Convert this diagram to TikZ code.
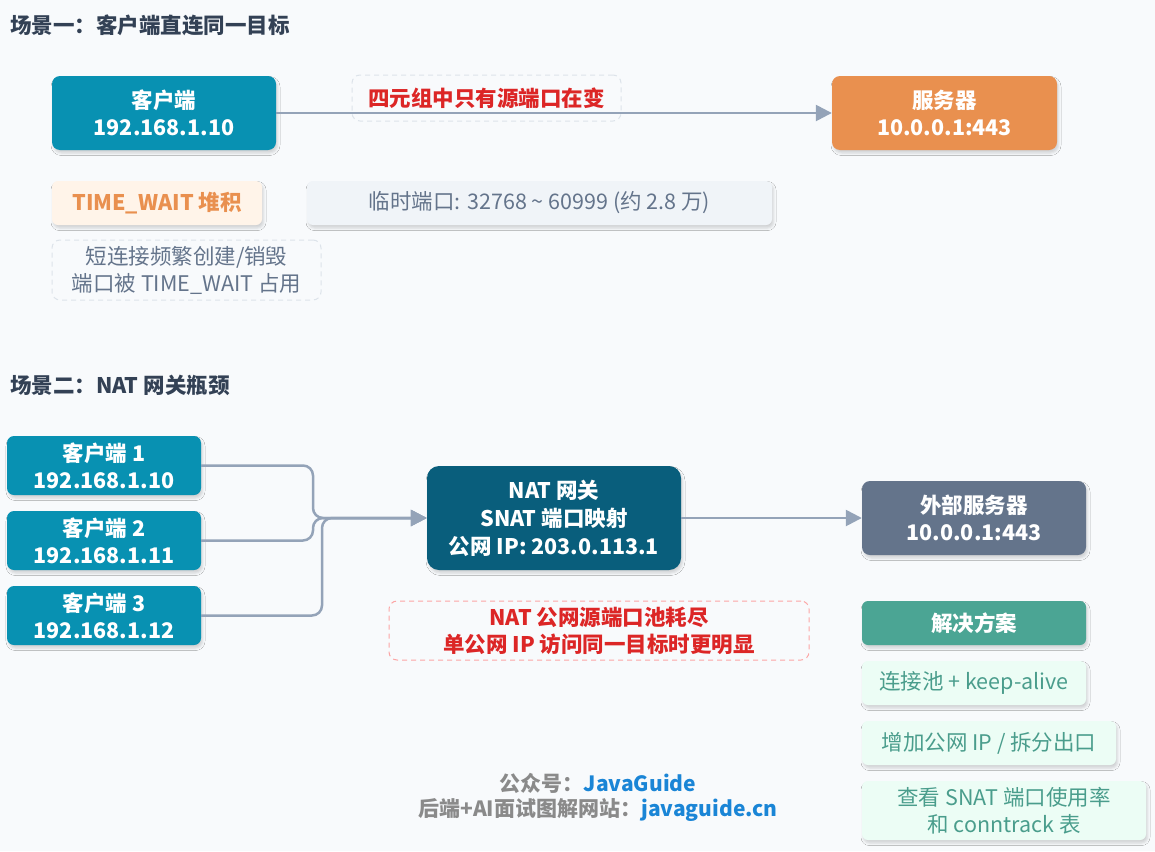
\documentclass[tikz,border=0pt]{standalone}
\usepackage{fontspec}
\setmainfont{Noto Sans CJK SC}
\usetikzlibrary{arrows.meta,shadows.blur}
\definecolor{bgc}{HTML}{F8FAFC}
\definecolor{tealc}{HTML}{0891B2}
\definecolor{darkteal}{HTML}{095E7C}
\definecolor{orangec}{HTML}{E9904F}
\definecolor{orangefill}{HTML}{FFF4E9}
\definecolor{slatec}{HTML}{64748B}
\definecolor{greenc}{HTML}{4BA594}
\definecolor{greentext}{HTML}{4A9D8C}
\definecolor{greenfill}{HTML}{ECFDF5}
\definecolor{grayfill}{HTML}{F0F4F8}
\definecolor{redc}{HTML}{DC2626}
\definecolor{redborder}{HTML}{FCA5A5}
\definecolor{dashgray}{HTML}{DDE3EA}
\definecolor{arrowc}{HTML}{94A3B8}
\definecolor{titlec}{HTML}{334155}
\definecolor{footgray}{HTML}{8A8A8A}
\definecolor{footblue}{HTML}{1A85D6}
\tikzset{
  x=1pt, y=-1pt,
  shad/.style={blur shadow={shadow xshift=1.5pt, shadow yshift=-3pt, shadow blur radius=2.5pt, shadow opacity=16}},
  box/.style={shad, rounded corners=8pt, inner sep=0pt, align=center, text=white,
    font=\fontsize{21.5}{27}\selectfont\bfseries},
  smallbox/.style={shad, rounded corners=6pt, inner sep=0pt, align=center,
    font=\fontsize{21.5}{27}\selectfont},
  dashbox/.style={draw=dashgray, line width=1pt, dash pattern=on 5pt off 4pt,
    rounded corners=8pt, inner sep=0pt, align=center, font=\fontsize{21.5}{27}\selectfont},
  conn/.style={draw=arrowc, line width=2.5pt, -{Triangle[length=16pt,width=16pt]}},
  ttl/.style={anchor=west, inner sep=0pt, text=titlec, font=\fontsize{21.5}{26}\selectfont\bfseries},
}
\begin{document}
\begin{tikzpicture}
\useasboundingbox (0,0) rectangle (1155,851);
\fill[bgc] (0,0) rectangle (1155,851);

% Scene 1
\node[ttl] (t1) at (10,25) {场景一：客户端直连同一目标};
\node[box, fill=tealc, minimum width=224pt, minimum height=74pt] (cli) at (164,113) {客户端\\192.168.1.10};
\node[box, fill=orangec, minimum width=225pt, minimum height=74pt] (srv) at (944.5,113) {服务器\\10.0.0.1:443};
\draw[conn] (cli.east) -- (srv.west);
\node[dashbox, minimum width=269pt, minimum height=46pt, text=redc, font=\fontsize{21.5}{27}\selectfont\bfseries] (lbl) at (486.5,98) {四元组中只有源端口在变};

\node[smallbox, fill=orangefill, text=orangec, minimum width=210pt, minimum height=44pt, font=\fontsize{21.5}{27}\selectfont\bfseries] (tw) at (157,203) {TIME\_WAIT 堆积};
\node[smallbox, fill=grayfill, text=slatec, minimum width=465pt, minimum height=44pt] (eph) at (539.5,203) {临时端口: 32768 \char`\~{} 60999 (约 2.8 万)};
\node[dashbox, text=slatec, minimum width=269pt, minimum height=60pt] (short) at (186.5,270) {短连接频繁创建/销毁\\端口被 TIME\_WAIT 占用};

% Scene 2
\node[ttl] (t2) at (10,385) {场景二：NAT 网关瓶颈};
\node[box, fill=tealc, minimum width=194pt, minimum height=59pt, rounded corners=7pt] (c1) at (104,465.5) {客户端 1\\192.168.1.10};
\node[box, fill=tealc, minimum width=194pt, minimum height=59pt, rounded corners=7pt] (c2) at (104,540.5) {客户端 2\\192.168.1.11};
\node[box, fill=tealc, minimum width=194pt, minimum height=59pt, rounded corners=7pt] (c3) at (104,615.5) {客户端 3\\192.168.1.12};
\node[box, fill=darkteal, minimum width=254pt, minimum height=104pt, rounded corners=12pt, font=\fontsize{21.5}{28}\selectfont\bfseries] (nat) at (554,518) {NAT 网关\\SNAT 端口映射\\公网 IP: 203.0.113.1};
\node[box, fill=slatec, minimum width=224pt, minimum height=74pt] (ext) at (974,518) {外部服务器\\10.0.0.1:443};

\coordinate (j1) at (313,518);
\coordinate (j2) at (313,518);
\coordinate (j3) at (322,518);
\draw[conn, rounded corners=10pt] (c1.east) -| (j1) -- (nat.west);
\draw[conn, rounded corners=10pt] (c2.east) -| (j2) -- (nat.west);
\draw[conn, rounded corners=10pt] (c3.east) -| (j3) -- (nat.west);
\draw[conn] (nat.east) -- (ext.west);

\node[dashbox, draw=redborder, text=redc, minimum width=420pt, minimum height=59pt, font=\fontsize{21.5}{27}\selectfont\bfseries] (ex) at (599,630.5) {NAT 公网源端口池耗尽\\单公网 IP 访问同一目标时更明显};

\node[smallbox, fill=greenc, text=white, minimum width=224pt, minimum height=44pt, font=\fontsize{21.5}{27}\selectfont\bfseries] (sol) at (974,623) {解决方案};
\node[smallbox, fill=greenfill, text=greentext, minimum width=224pt, minimum height=44pt] (s1) at (974,683) {连接池 + keep-alive};
\node[smallbox, fill=greenfill, text=greentext, minimum width=254pt, minimum height=44pt] (s2) at (989,743) {增加公网 IP / 拆分出口};
\node[smallbox, fill=greenfill, text=greentext, minimum width=284pt, minimum height=59pt] (s3) at (1004,810.5) {查看 SNAT 端口使用率\\和 conntrack 表};

% Footer
\node[inner sep=0pt, font=\fontsize{21}{27}\selectfont\bfseries, text=footgray] (f1) at (598,783) {公众号：\textcolor{footblue}{JavaGuide}};
\node[inner sep=0pt, font=\fontsize{21}{27}\selectfont\bfseries, text=footgray] (f2) at (598,810) {后端+AI面试图解网站：\textcolor{footblue}{javaguide.cn}};
\end{tikzpicture}
\end{document}
